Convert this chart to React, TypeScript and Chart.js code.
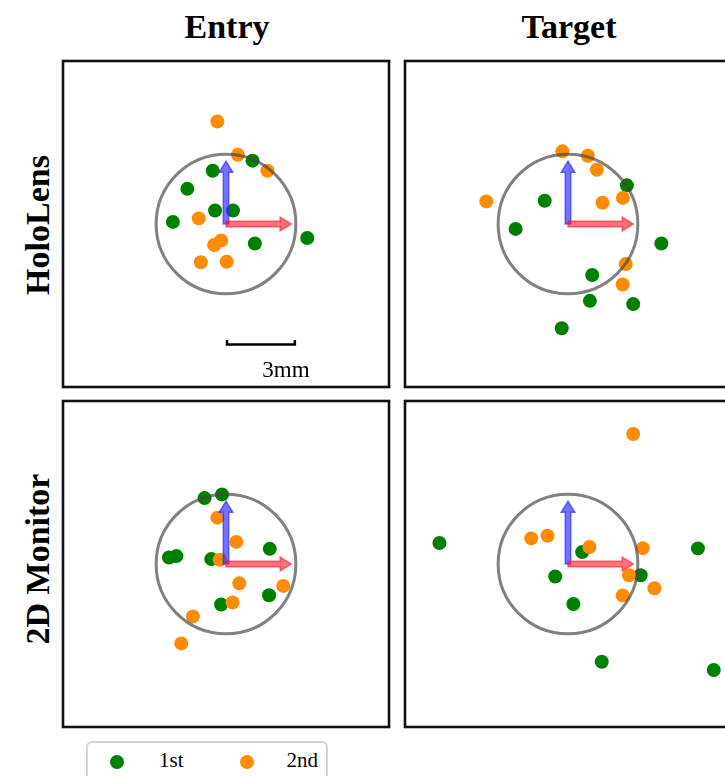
import React, { useEffect, useRef } from "react";
import { Chart, registerables } from "chart.js";

Chart.register(...registerables);

// ---------- labels ----------
const columnTitles = ["Entry", "Target"];
const rowTitles = ["HoloLens", "2D Monitor"];
const seriesNames = ["1st", "2nd"];
const scaleBarLabel = "3mm";

// ---------- data (offsets in mm from planned point) ----------
const holoEntry1st: [number, number][] = [
  [1.14, 2.72], [-0.57, 2.29], [-1.66, 1.51], [-0.47, 0.58],
  [0.30, 0.58], [-2.28, 0.09], [1.24, -0.84], [3.49, -0.60],
];
const holoEntry2nd: [number, number][] = [
  [-0.37, 4.40], [0.51, 2.97], [1.78, 2.29], [-1.17, 0.24],
  [-0.21, -0.71], [-0.51, -0.90], [-1.08, -1.64], [0.03, -1.62],
];
const holoTarget1st: [number, number][] = [
  [2.53, 1.66], [-1.00, 1.00], [-2.25, -0.21], [4.01, -0.84],
  [1.04, -2.19], [0.94, -3.30], [2.80, -3.44], [-0.27, -4.48],
];
const holoTarget2nd: [number, number][] = [
  [-0.24, 3.12], [0.85, 2.93], [1.24, 2.33], [-3.51, 0.97],
  [1.48, 0.91], [2.36, 1.12], [2.48, -1.72], [2.35, -2.60],
];
const monitorEntry1st: [number, number][] = [
  [-0.92, 2.83], [-0.17, 2.99], [-2.45, 0.28], [-2.13, 0.34],
  [-0.63, 0.21], [1.88, 0.65], [1.85, -1.34], [-0.21, -1.74],
];
const monitorEntry2nd: [number, number][] = [
  [-0.37, 1.99], [0.44, 0.95], [-0.27, 0.18], [0.57, -0.83],
  [2.46, -0.94], [0.28, -1.65], [-1.42, -2.25], [-1.92, -3.41],
];
const monitorTarget1st: [number, number][] = [
  [-5.52, 0.90], [0.61, 0.51], [5.58, 0.67], [-0.55, -0.54],
  [3.12, -0.48], [0.23, -1.72], [1.45, -4.20], [6.26, -4.55],
];
const monitorTarget2nd: [number, number][] = [
  [2.80, 5.58], [-1.58, 1.10], [-0.88, 1.21], [0.92, 0.73],
  [3.21, 0.68], [2.62, -0.48], [3.71, -1.04], [2.35, -1.35],
];

// ---------- geometry constants (mm) ----------
const AXIS_MIN = -7;
const AXIS_MAX = 7;
const TARGET_RADIUS_MM = 3;
const X_ARROW_MM = 2.8;
const Y_ARROW_MM = 2.7;
const SCALE_BAR_MM = 3;
const SCALE_BAR_Y_MM = -5.18;

// ---------- style ----------
const GREEN = "#008000";
const ORANGE = "#ff8c00";
const FONT = '"Liberation Serif", "Times New Roman", serif';
const SIZE = 328;
const PAD = 6;

function drawArrow(
  ctx: CanvasRenderingContext2D,
  x0: number, y0: number, x1: number, y1: number, color: string
) {
  const dx = x1 - x0, dy = y1 - y0;
  const len = Math.hypot(dx, dy);
  const ux = dx / len, uy = dy / len;
  const px = -uy, py = ux;
  const shaftHalf = 2.7;
  const headHalf = 6.8;
  const headLen = 11;
  const bx = x1 - ux * headLen, by = y1 - uy * headLen;
  ctx.beginPath();
  ctx.moveTo(x0 + px * shaftHalf, y0 + py * shaftHalf);
  ctx.lineTo(bx + px * shaftHalf, by + py * shaftHalf);
  ctx.lineTo(bx + px * headHalf, by + py * headHalf);
  ctx.lineTo(x1, y1);
  ctx.lineTo(bx - px * headHalf, by - py * headHalf);
  ctx.lineTo(bx - px * shaftHalf, by - py * shaftHalf);
  ctx.lineTo(x0 - px * shaftHalf, y0 - py * shaftHalf);
  ctx.closePath();
  ctx.fillStyle = color;
  ctx.fill();
  ctx.strokeStyle = color;
  ctx.lineWidth = 1.5;
  ctx.lineJoin = "miter";
  ctx.stroke();
}

const overlayPlugin = {
  id: "overlay",
  afterDatasetsDraw(chart: any, _args: any, opts: any) {
    const { ctx, chartArea, scales } = chart;
    const xs = scales.x, ys = scales.y;
    const cx = xs.getPixelForValue(0);
    const cy = ys.getPixelForValue(0);
    const r = xs.getPixelForValue(TARGET_RADIUS_MM) - cx;
    ctx.save();
    // target circle
    ctx.beginPath();
    ctx.arc(cx, cy, r, 0, Math.PI * 2);
    ctx.strokeStyle = "rgba(70,70,70,0.68)";
    ctx.lineWidth = 3;
    ctx.stroke();
    // axes arrows
    drawArrow(ctx, cx, cy, cx, ys.getPixelForValue(Y_ARROW_MM), "rgba(40,40,255,0.65)");
    drawArrow(ctx, cx, cy, xs.getPixelForValue(X_ARROW_MM), cy, "rgba(255,20,40,0.6)");
    // scale bar
    if (opts && opts.scaleBar) {
      const xa = xs.getPixelForValue(0);
      const xb = xs.getPixelForValue(SCALE_BAR_MM);
      const yb = ys.getPixelForValue(SCALE_BAR_Y_MM);
      ctx.strokeStyle = "#000";
      ctx.lineWidth = 2.5;
      ctx.lineCap = "butt";
      ctx.beginPath();
      ctx.moveTo(xa, yb);
      ctx.lineTo(xb, yb);
      ctx.moveTo(xa + 1, yb + 1.2);
      ctx.lineTo(xa + 1, yb - 4.5);
      ctx.moveTo(xb - 1, yb + 1.2);
      ctx.lineTo(xb - 1, yb - 4.5);
      ctx.stroke();
    }
    // frame
    ctx.strokeStyle = "#111";
    ctx.lineWidth = 2.6;
    ctx.strokeRect(
      chartArea.left, chartArea.top,
      chartArea.right - chartArea.left, chartArea.bottom - chartArea.top
    );
    ctx.restore();
  },
};

function Panel(props: {
  left: number; top: number;
  first: [number, number][]; second: [number, number][];
  scaleBar?: boolean;
}) {
  const ref = useRef<HTMLCanvasElement>(null);
  useEffect(() => {
    const chart = new Chart(ref.current as HTMLCanvasElement, {
      type: "scatter",
      data: {
        datasets: [
          {
            label: seriesNames[0],
            data: props.first.map(([x, y]) => ({ x, y })),
            backgroundColor: GREEN,
            borderColor: GREEN,
            pointRadius: 7,
            pointBorderWidth: 0,
            order: 1,
          },
          {
            label: seriesNames[1],
            data: props.second.map(([x, y]) => ({ x, y })),
            backgroundColor: ORANGE,
            borderColor: ORANGE,
            pointRadius: 7,
            pointBorderWidth: 0,
            order: 0,
          },
        ],
      },
      options: {
        responsive: false,
        animation: false,
        events: [],
        layout: { padding: PAD },
        scales: {
          x: { type: "linear", min: AXIS_MIN, max: AXIS_MAX, display: false },
          y: { type: "linear", min: AXIS_MIN, max: AXIS_MAX, display: false },
        },
        plugins: {
          legend: { display: false },
          tooltip: { enabled: false },
          overlay: { scaleBar: !!props.scaleBar },
        } as any,
      },
      plugins: [overlayPlugin],
    });
    return () => chart.destroy();
  }, []);
  const full = SIZE + 2 * PAD;
  return (
    <canvas
      ref={ref}
      width={full}
      height={full}
      style={{
        position: "absolute",
        left: props.left - PAD,
        top: props.top - PAD,
        width: full,
        height: full,
      }}
    />
  );
}

const centered: React.CSSProperties = {
  position: "absolute",
  lineHeight: 1,
  whiteSpace: "nowrap",
  transform: "translate(-50%, -50%)",
};

export default function App() {
  const colLeft = [62, 404];
  const rowTop = [60, 400];
  return (
    <div
      style={{
        position: "absolute",
        left: 0,
        top: 0,
        width: 725,
        height: 776,
        overflow: "hidden",
        background: "#fff",
        fontFamily: FONT,
        color: "#000",
      }}
    >
      {columnTitles.map((t, i) => (
        <div
          key={t}
          style={{ ...centered, left: colLeft[i] + SIZE / 2 + 1, top: 27, fontSize: 34, fontWeight: "bold" }}
        >
          {t}
        </div>
      ))}
      {rowTitles.map((t, i) => (
        <div
          key={t}
          style={{
            ...centered,
            left: 38,
            top: rowTop[i] + SIZE / 2 + (i === 0 ? 1 : -5),
            fontSize: 34,
            fontWeight: "bold",
            transform: "translate(-50%, -50%) rotate(-90deg)",
          }}
        >
          {t}
        </div>
      ))}
      <Panel left={colLeft[0]} top={rowTop[0]} first={holoEntry1st} second={holoEntry2nd} scaleBar />
      <Panel left={colLeft[1]} top={rowTop[0]} first={holoTarget1st} second={holoTarget2nd} />
      <Panel left={colLeft[0]} top={rowTop[1]} first={monitorEntry1st} second={monitorEntry2nd} />
      <Panel left={colLeft[1]} top={rowTop[1]} first={monitorTarget1st} second={monitorTarget2nd} />
      <div style={{ ...centered, left: 286, top: 369, fontSize: 23 }}>{scaleBarLabel}</div>
      {/* legend */}
      <div
        style={{
          position: "absolute",
          left: 86,
          top: 741,
          width: 238,
          height: 60,
          border: "2.5px solid #d4d4d4",
          borderRadius: 6,
          background: "#fff",
        }}
      />
      {[GREEN, ORANGE].map((c, i) => (
        <div
          key={c}
          style={{
            position: "absolute",
            left: (i === 0 ? 117.3 : 246.7) - 7,
            top: 761.7 - 7,
            width: 14,
            height: 14,
            borderRadius: "50%",
            background: c,
          }}
        />
      ))}
      {seriesNames.map((s, i) => (
        <div
          key={s}
          style={{
            position: "absolute",
            lineHeight: 1,
            whiteSpace: "nowrap",
            left: i === 0 ? 159 : 286.5,
            top: 759.5,
            transform: "translateY(-50%)",
            fontSize: 21,
          }}
        >
          {s}
        </div>
      ))}
    </div>
  );
}
